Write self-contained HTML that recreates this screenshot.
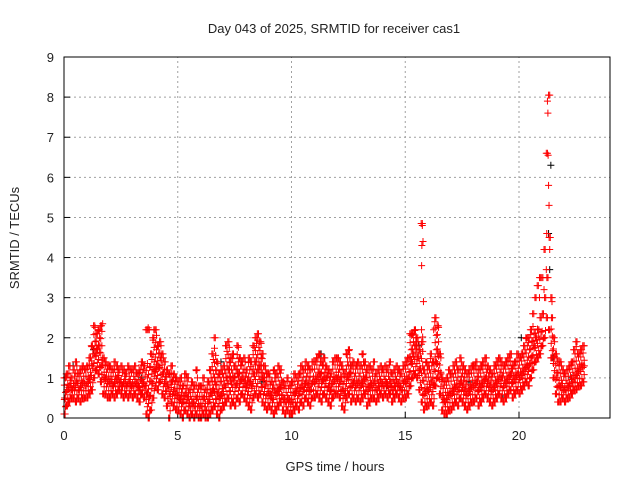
<!DOCTYPE html>
<html><head><meta charset="utf-8"><style>
html,body{margin:0;padding:0;background:#fff;}
svg{display:block;font-family:"Liberation Sans",sans-serif;}
</style></head><body>
<svg id="chart" width="640" height="480">
<rect width="640" height="480" fill="#fff"/>
<text x="334" y="33" text-anchor="middle" font-size="13" fill="#222">Day 043 of 2025, SRMTID for receiver cas1</text>
<text x="335" y="471" text-anchor="middle" font-size="13" fill="#222">GPS time / hours</text>
<text transform="translate(19,238) rotate(-90)" text-anchor="middle" font-size="13" fill="#222">SRMTID / TECUs</text>
<g id="grid"></g>
<g id="axes"></g>
<g id="marks"></g>
<rect x="64" y="57" width="546" height="361" fill="none" stroke="#000" stroke-width="1"/>
</svg>
<script>
const xTicks=[0,5,10,15,20];
const yTicks=[0,1,2,3,4,5,6,7,8,9];
const lo=[0.1,0.3,0.4,0.5,0.5,0.4,0.5,0.4,0.5,0.5,
0.5,0.6,0.7,1.0,1.2,1.1,0.9,0.6,0.6,0.5,
0.5,0.6,0.5,0.6,0.7,0.6,0.5,0.6,0.5,0.6,
0.5,0.6,0.5,0.4,0.6,0.5,0.1,0.0,0.2,0.5,
0.8,0.7,0.9,0.6,0.5,0.3,0.0,0.4,0.3,0.2,
0.2,0.1,0.0,0.2,0.1,0.0,0.1,0.0,0.1,0.0,
0.0,0.1,0.0,0.0,0.1,0.2,0.3,0.1,0.0,0.2,
0.3,0.4,0.5,0.3,0.4,0.3,0.5,0.4,0.6,0.5,
0.4,0.3,0.2,0.5,0.6,0.5,0.6,0.4,0.3,0.2,
0.3,0.2,0.1,0.2,0.3,0.4,0.2,0.1,0.2,0.1,
0.1,0.2,0.3,0.2,0.4,0.3,0.5,0.4,0.3,0.5,
0.5,0.6,0.5,0.4,0.6,0.5,0.4,0.3,0.5,0.6,
0.6,0.5,0.3,0.2,0.5,0.6,0.4,0.5,0.4,0.5,
0.4,0.5,0.6,0.3,0.4,0.5,0.5,0.4,0.5,0.6,
0.5,0.6,0.5,0.6,0.4,0.5,0.6,0.5,0.4,0.5,
0.5,0.6,0.8,1.0,1.1,1.0,0.7,0.4,0.2,0.3,
0.3,0.4,0.3,0.8,1.0,0.6,0.2,0.1,0.1,0.2,
0.2,0.3,0.4,0.3,0.5,0.4,0.3,0.2,0.3,0.4,
0.4,0.5,0.3,0.4,0.5,0.6,0.5,0.4,0.3,0.4,
0.5,0.6,0.5,0.4,0.5,0.6,0.7,0.5,0.6,0.7,
0.6,0.7,0.8,0.9,0.8,1.0,1.2,1.4,1.5,1.6,
1.8,2.0,2.5,2.2,1.5,1.0,0.6,0.4,0.4,0.5,
0.4,0.5,0.5,0.6,0.7,0.7,0.8,0.8,0.9];
const mid=[0.5,0.7,0.8,0.7,0.8,0.9,0.7,0.8,0.9,0.8,
0.9,1.0,1.3,1.6,1.7,1.8,1.3,1.0,1.0,0.9,
0.9,0.8,0.9,1.0,0.9,0.8,0.9,0.8,0.9,0.8,
0.8,0.9,0.8,0.7,0.9,0.8,0.6,0.5,0.9,1.2,
1.2,1.3,1.5,1.1,0.9,0.8,0.6,0.9,0.7,0.6,
0.5,0.5,0.4,0.6,0.5,0.3,0.4,0.3,0.5,0.3,
0.3,0.5,0.2,0.4,0.6,0.7,0.9,0.6,0.5,0.6,
0.8,1.0,1.2,0.9,1.0,0.8,1.1,0.9,1.0,0.9,
0.8,0.9,0.8,1.1,1.4,1.2,1.3,1.0,0.8,0.6,
0.6,0.5,0.7,0.6,0.7,0.8,0.5,0.4,0.5,0.4,
0.4,0.6,0.7,0.6,0.8,0.7,0.9,0.8,0.7,0.9,
0.9,1.0,1.1,0.9,1.0,1.0,0.8,0.7,0.9,1.0,
1.0,0.9,0.7,0.6,1.0,1.1,0.8,0.9,0.8,0.9,
0.8,0.9,1.0,0.7,0.8,0.8,0.9,0.7,0.8,0.9,
0.8,0.9,0.8,0.9,0.7,0.8,0.9,0.8,0.7,0.9,
0.9,1.0,1.4,1.6,1.8,1.5,1.2,1.9,0.6,0.7,
0.7,0.9,0.8,1.4,1.6,1.1,0.5,0.4,0.5,0.6,
0.6,0.7,0.8,0.7,0.9,0.8,0.7,0.6,0.7,0.8,
0.8,0.9,0.7,0.8,0.9,1.0,0.9,0.8,0.7,0.8,
0.9,1.0,1.0,0.8,0.9,1.0,1.1,0.9,1.0,1.1,
1.0,1.1,1.2,1.3,1.3,1.5,1.8,2.0,2.2,2.5,
2.6,3.0,3.5,4.5,2.5,1.5,1.0,0.8,0.8,0.7,
0.7,0.8,0.8,0.9,1.0,1.1,1.2,1.3,1.3];
const hi=[1.0,1.1,1.3,1.0,1.2,1.4,1.1,1.2,1.3,1.2,
1.3,1.5,1.8,2.3,2.1,2.2,2.3,1.5,1.4,1.3,
1.3,1.2,1.4,1.3,1.2,1.3,1.2,1.1,1.3,1.2,
1.2,1.3,1.1,1.2,1.4,1.3,2.2,2.2,1.6,2.0,
2.2,1.8,1.9,1.6,1.4,1.2,1.1,1.3,1.1,1.0,
0.9,1.0,0.8,1.1,1.0,0.7,0.9,0.8,1.2,0.8,
0.8,1.0,0.7,0.9,1.2,1.6,2.0,1.4,1.1,1.2,
1.3,1.8,1.9,1.5,1.6,1.3,1.8,1.5,1.4,1.5,
1.2,1.5,1.4,1.8,2.0,2.1,1.9,1.6,1.3,1.1,
1.1,0.9,1.2,1.1,1.3,1.2,0.9,0.8,1.0,0.8,
0.9,1.1,1.0,1.1,1.3,1.2,1.4,1.3,1.2,1.4,
1.4,1.5,1.6,1.4,1.5,1.3,1.2,1.1,1.4,1.5,
1.5,1.4,1.3,1.1,1.6,1.7,1.3,1.4,1.3,1.4,
1.3,1.6,1.4,1.2,1.3,1.2,1.4,1.1,1.2,1.3,
1.2,1.3,1.2,1.4,1.1,1.2,1.3,1.2,1.1,1.3,
1.4,1.5,2.1,2.1,2.2,2.0,1.7,4.85,1.2,1.4,
1.3,1.6,1.4,2.5,2.3,1.6,1.0,0.9,1.0,1.2,
1.1,1.3,1.4,1.2,1.5,1.3,1.2,1.1,1.2,1.3,
1.3,1.4,1.2,1.3,1.4,1.5,1.3,1.2,1.1,1.3,
1.4,1.5,1.4,1.3,1.4,1.5,1.6,1.3,1.4,1.6,
1.5,1.6,1.8,2.0,2.0,2.2,2.6,3.0,3.3,3.5,
3.5,4.2,6.6,8.05,3.0,2.0,1.6,1.4,1.4,1.2,
1.1,1.2,1.3,1.4,1.7,1.9,1.6,1.7,1.8];
const spikeHours=[15.75,15.78,15.73,15.72,15.8,21.25,21.27,21.28,21.3,21.32,21.22,21.35,21.2,16.3,1.7,3.7,3.95,20.9,21.1,21.45,15.5,16.25];
const spikeVals=[4.8,4.4,4.3,3.8,2.9,7.9,7.6,6.55,5.8,5.3,4.6,4.2,3.7,2.4,2.35,2.25,2.2,3.0,3.2,2.9,1.9,2.2];
const blackHours=[0.4,1.3,3.4,6.9,8.7,11.3,12.6,14.2,15.6,17.8,19.3,20.1,21.3,21.4,21.35,21.5,22.3];
const blackVals=[1.3,1.7,1.0,1.4,0.9,1.6,1.3,0.8,1.8,0.9,0.5,2.0,4.6,6.3,3.7,1.5,1.0];
const svg=document.getElementById('chart');
const NS='http://www.w3.org/2000/svg';
const X0=64,X1=610,Y0=418,Y1=57,XMAX=24,YMAX=9;
function xs(h){return X0+(X1-X0)*h/XMAX;}
function ys(v){return Y0-(Y0-Y1)*v/YMAX;}
function mk(tag,attrs,parent){const e=document.createElementNS(NS,tag);for(const k in attrs)e.setAttribute(k,attrs[k]);parent.appendChild(e);return e;}
const grid=document.getElementById('grid'),axes=document.getElementById('axes'),marks=document.getElementById('marks');
xTicks.forEach(t=>{
  const x=xs(t);
  if(t>0){const g=mk('line',{x1:x,y1:Y0,x2:x,y2:Y1,stroke:'#a0a0a0','stroke-dasharray':'2,3'},grid);
  
  }
  const tk=mk('line',{x1:x,y1:Y0,x2:x,y2:Y0-6,stroke:'#000'},axes);
  
  
  const l=mk('text',{x:x,y:Y0+22,'text-anchor':'middle','font-size':'13',fill:'#222'},axes);
  l.textContent=t;
  
  
});
yTicks.forEach(t=>{
  const y=ys(t);
  if(t>0&&t<9){const g=mk('line',{x1:X0,y1:y,x2:X1,y2:y,stroke:'#a0a0a0','stroke-dasharray':'2,3'},grid);
  
  }
  const tk=mk('line',{x1:X0,y1:y,x2:X0+6,y2:y,stroke:'#000'},axes);
  
  
  const l=mk('text',{x:X0-10,y:y+5,'text-anchor':'end','font-size':'13',fill:'#222'},axes);
  l.textContent=t;
  
  
});
function plus(h,v,color){
  const x=xs(h),y=ys(v);
  const p=mk('path',{d:`M${x-3.5},${y}H${x+3.5}M${x},${y-3.5}V${y+3.5}`,stroke:color,'stroke-width':'1',fill:'none'},marks);
  
  
}
blackHours.forEach((h,i)=>plus(h,blackVals[i],'#000'));
lo.forEach((v,i)=>{
  const h=i*0.1;
  plus(h,v,'#ff0000');plus(h+0.05,v,'#ff0000');
  plus(h+0.025,mid[i],'#ff0000');plus(h+0.075,mid[i],'#ff0000');
  plus(h,hi[i],'#ff0000');plus(h+0.05,hi[i],'#ff0000');
  // fill the dense part of the band (isolated spikes stay sparse)
  const top=Math.min(hi[i],2.3,mid[i]+0.9);
  for(let k=0;k*0.18<top-v;k++){
    plus(h+(k%2?0.065:0.015),v+k*0.18,'#ff0000');
  }
});
spikeHours.forEach((h,i)=>plus(h,spikeVals[i],'#ff0000'));
</script>
</body></html>
